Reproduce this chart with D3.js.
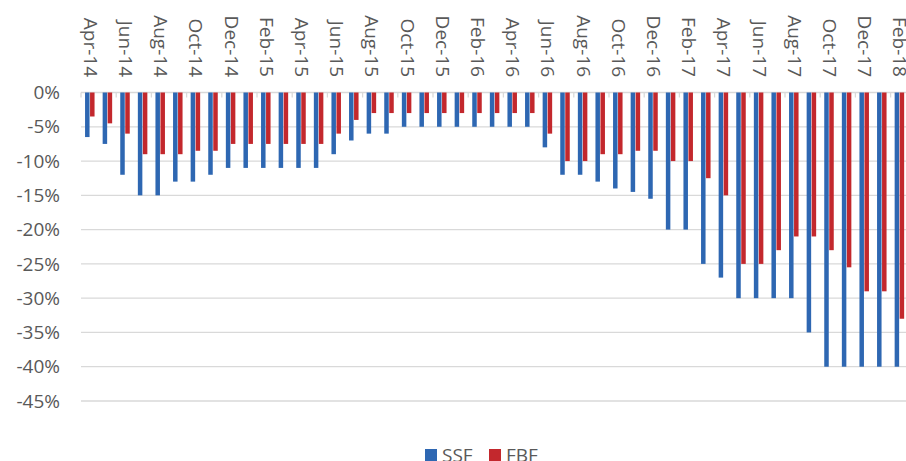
<!DOCTYPE html>
<html><head><meta charset="utf-8">
<script src="https://cdn.jsdelivr.net/npm/d3@7"></script>
<style>body{margin:0;background:#fff;} svg{display:block;}</style>
</head><body>
<svg id="c" width="906" height="461"></svg>
<script>
const months = ["Apr-14","May-14","Jun-14","Jul-14","Aug-14","Sep-14","Oct-14","Nov-14","Dec-14",
"Jan-15","Feb-15","Mar-15","Apr-15","May-15","Jun-15","Jul-15","Aug-15","Sep-15","Oct-15","Nov-15","Dec-15",
"Jan-16","Feb-16","Mar-16","Apr-16","May-16","Jun-16","Jul-16","Aug-16","Sep-16","Oct-16","Nov-16","Dec-16",
"Jan-17","Feb-17","Mar-17","Apr-17","May-17","Jun-17","Jul-17","Aug-17","Sep-17","Oct-17","Nov-17","Dec-17",
"Jan-18","Feb-18"];
const ssf = [-6.5,-7.5,-12,-15,-15,-13,-13,-12,-11,
-11,-11,-11,-11,-11,-9,-7,-6,-6,-5,-5,-5,
-5,-5,-5,-5,-5,-8,-12,-12,-13,-14,-14.5,-15.5,
-20,-20,-25,-27,-30,-30,-30,-30,-35,-40,-40,-40,
-40,-40];
const fbf = [-3.5,-4.5,-6,-9,-9,-9,-8.5,-8.5,-7.5,
-7.5,-7.5,-7.5,-7.5,-7.5,-6,-4,-3,-3,-3,-3,-3,
-3,-3,-3,-3,-3,-6,-10,-10,-9,-9,-8.5,-8.5,
-10,-10,-12.5,-15,-25,-25,-23,-21,-21,-23,-25.5,-29,
-29,-33];
const seriesNames = ["SSF","FBF"];
const colors = ["#2e67b2","#c3282d"];
const yTicks = [0,-5,-10,-15,-20,-25,-30,-35,-40,-45];

const svg = d3.select("#c");
const font = "'Open Sans', sans-serif";
const left = 81, step = 17.6;
const x0 = d3.scaleBand().domain(months).range([left, left + step*months.length]).paddingInner(0.46).paddingOuter(0.23);
const x1 = d3.scaleBand().domain(seriesNames).range([0, x0.bandwidth()]).paddingInner(0.1);
const y = d3.scaleLinear().domain([0,-45]).range([92.5, 401]);

// gridlines
svg.append("g").selectAll("line").data(yTicks).join("line")
  .attr("x1", left).attr("x2", 906)
  .attr("y1", d=>y(d)).attr("y2", d=>y(d))
  .attr("stroke", "#d9d9d9").attr("stroke-width", 1.3);

// category tick marks (every 2 categories, at boundaries)
const tickIdx = months.map((m,i)=>i).filter(i=>i%2===0);
svg.append("g").selectAll("line").data(tickIdx).join("line")
  .attr("x1", i=>x0(months[i]) - x0.step()*0.23 - 0.0).attr("x2", i=>x0(months[i]) - x0.step()*0.23)
  .attr("y1", y(0)).attr("y2", y(0)+5)
  .attr("stroke", "#d9d9d9").attr("stroke-width", 1.3);

// y labels
svg.append("g").selectAll("text").data(yTicks).join("text")
  .attr("x", 60).attr("y", d=>y(d)).attr("dy","0.35em")
  .attr("text-anchor","end").attr("font-family",font).attr("font-size",19).attr("fill","#595959")
  .text(d=>d+"%");

// bars
const data = [ssf, fbf];
const g = svg.append("g");
seriesNames.forEach((s,si)=>{
  g.append("g").selectAll("rect").data(months).join("rect")
   .attr("x", (m)=>x0(m)+x1(s))
   .attr("width", x1.bandwidth())
   .attr("y", y(0))
   .attr("height", (m,i)=>y(data[si][i]) - y(0))
   .attr("fill", colors[si]);
});

// x labels (every other month), rotated
const labelMonths = months.filter((m,i)=>i%2===0);
svg.append("g").selectAll("text").data(labelMonths).join("text")
  .attr("transform", m=>`translate(${x0(m)+x0.bandwidth()/2 - 6},77) rotate(90)`)
  .attr("text-anchor","end").attr("font-family",font).attr("font-size",19).attr("fill","#595959")
  .text(m=>m);

// legend
const leg = svg.append("g");
const legItems = [{n:"SSF",c:colors[0],x:425},{n:"FBF",c:colors[1],x:489}];
legItems.forEach(it=>{
  leg.append("rect").attr("x",it.x).attr("y",449).attr("width",12).attr("height",12).attr("fill",it.c);
  leg.append("text").attr("x",it.x+17).attr("y",462).attr("font-family",font).attr("font-size",19).attr("fill","#595959").text(it.n);
});
</script>
</body></html>
